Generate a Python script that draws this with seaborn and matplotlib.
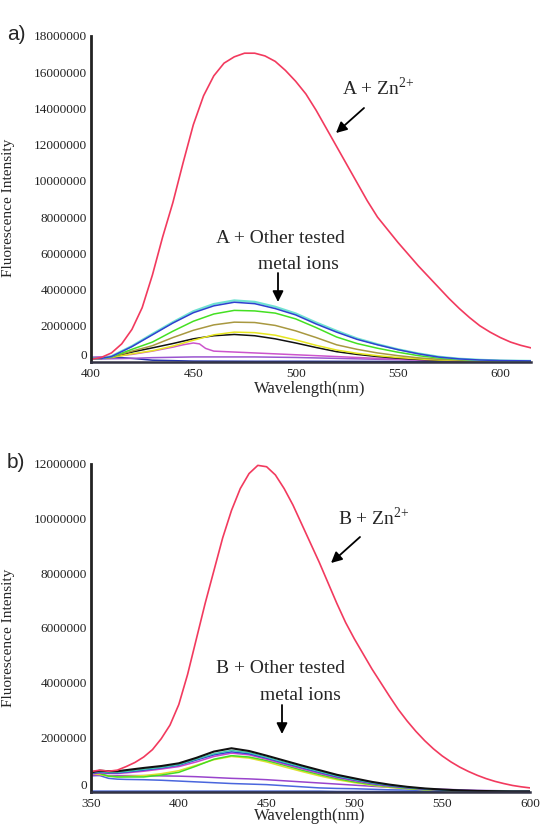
import numpy as np
import matplotlib
matplotlib.use("Agg")
import matplotlib.pyplot as plt
import seaborn as sns

# ---- data (intensities in millions of counts) ----
# panel a : compound A
wl_a_zn = [400, 405, 410, 415, 420, 425, 430, 435, 440, 445, 450, 455, 460, 465, 470,
           475, 480, 485, 490, 495, 500, 505, 510, 515, 520, 525, 530, 535, 540, 545,
           550, 555, 560, 565, 570, 575, 580, 585, 590, 595, 600, 605, 610, 615]
a_zn = [0.15, 0.25, 0.5, 1.0, 1.8, 3.0, 4.8, 6.9, 8.8, 11.0, 13.1, 14.7, 15.8, 16.5, 16.85,
        17.05, 17.05, 16.9, 16.6, 16.1, 15.5, 14.8, 13.9, 12.9, 11.9, 10.9, 9.9, 8.9, 8.0, 7.3,
        6.6, 5.95, 5.3, 4.7, 4.1, 3.5, 2.95, 2.45, 2.0, 1.65, 1.35, 1.1, 0.92, 0.78]

wl_a = [400, 405, 410, 420, 430, 440, 450, 460, 470, 480, 490, 500, 510, 520, 530,
        540, 550, 560, 570, 580, 590, 600, 615]
a_cyan = [0.2, 0.22, 0.32, 0.88, 1.55, 2.2, 2.8, 3.2, 3.4, 3.32, 3.05, 2.68, 2.18, 1.72, 1.3,
          0.98, 0.7, 0.47, 0.29, 0.18, 0.12, 0.08, 0.06]
a_blue = [0.2, 0.2, 0.3, 0.85, 1.5, 2.15, 2.72, 3.1, 3.3, 3.22, 2.95, 2.6, 2.1, 1.65, 1.25,
          0.95, 0.68, 0.45, 0.27, 0.17, 0.11, 0.08, 0.06]
a_green = [0.2, 0.2, 0.28, 0.7, 1.1, 1.7, 2.25, 2.65, 2.85, 2.82, 2.7, 2.38, 1.9, 1.38, 1.02,
           0.76, 0.54, 0.35, 0.22, 0.14, 0.1, 0.07, 0.05]
a_olive = [0.2, 0.2, 0.27, 0.6, 0.9, 1.35, 1.75, 2.05, 2.2, 2.18, 2.02, 1.72, 1.35, 0.95, 0.7,
           0.5, 0.35, 0.23, 0.15, 0.1, 0.07, 0.05, 0.04]
a_yellow = [0.2, 0.2, 0.25, 0.45, 0.62, 0.88, 1.2, 1.5, 1.65, 1.62, 1.48, 1.22, 0.92, 0.66, 0.48,
            0.35, 0.25, 0.17, 0.11, 0.08, 0.06, 0.05, 0.04]
a_black = [0.2, 0.2, 0.26, 0.55, 0.78, 1.02, 1.28, 1.45, 1.52, 1.45, 1.28, 1.05, 0.8, 0.57, 0.42,
           0.3, 0.21, 0.14, 0.1, 0.07, 0.05, 0.04, 0.03]
wl_a_mag = [400, 410, 420, 430, 440, 445, 450, 453, 456, 460, 470, 480, 500, 520, 540, 560, 580, 600, 615]
a_magenta = [0.25, 0.3, 0.42, 0.6, 0.82, 0.95, 1.05, 1.0, 0.75, 0.6, 0.55, 0.5, 0.4, 0.3, 0.2, 0.12, 0.07, 0.04, 0.03]
wl_a_flat = [400, 410, 420, 430, 450, 480, 500, 540, 580, 615]
a_purple = [0.15, 0.18, 0.2, 0.24, 0.28, 0.28, 0.25, 0.15, 0.08, 0.05]
a_navy = [0.25, 0.28, 0.2, 0.1, 0.05, 0.04, 0.04, 0.03, 0.03, 0.03]

# panel b : compound B
wl_b_zn = [350, 355, 360, 365, 370, 375, 380, 385, 390, 395, 400, 405, 410, 415, 420, 425,
           430, 435, 440, 445, 450, 455, 460, 465, 470, 475, 480, 485, 490, 495, 500, 505,
           510, 515, 520, 525, 530, 535, 540, 545, 550, 555, 560, 565, 570, 575, 580, 585,
           590, 595, 600]
b_zn = [0.75, 0.8, 0.76, 0.8, 0.93, 1.08, 1.28, 1.55, 1.95, 2.45, 3.2, 4.3, 5.6, 6.9, 8.1, 9.3,
        10.3, 11.1, 11.65, 11.95, 11.9, 11.6, 11.1, 10.5, 9.8, 9.1, 8.4, 7.65, 6.9, 6.2, 5.6, 5.05,
        4.5, 4.0, 3.5, 3.02, 2.6, 2.22, 1.88, 1.58, 1.32, 1.1, 0.91, 0.75, 0.61, 0.49, 0.39, 0.31,
        0.24, 0.19, 0.15]

wl_b = [350, 355, 360, 365, 370, 380, 390, 400, 410, 420, 430, 440, 450, 460, 470, 480,
        490, 500, 510, 520, 530, 540, 550, 560, 570, 580, 590, 600]
b_black = [0.72, 0.78, 0.76, 0.76, 0.8, 0.88, 0.95, 1.05, 1.25, 1.48, 1.6, 1.5, 1.33, 1.15, 0.97, 0.8,
           0.63, 0.5, 0.37, 0.27, 0.19, 0.13, 0.09, 0.06, 0.04, 0.03, 0.02, 0.02]
b_teal = [0.7, 0.75, 0.72, 0.72, 0.75, 0.83, 0.9, 1.0, 1.2, 1.4, 1.52, 1.44, 1.27, 1.09, 0.92, 0.75,
          0.59, 0.46, 0.34, 0.25, 0.17, 0.12, 0.08, 0.05, 0.04, 0.03, 0.02, 0.02]
b_blue = [0.68, 0.72, 0.7, 0.7, 0.73, 0.8, 0.88, 0.98, 1.17, 1.36, 1.47, 1.4, 1.24, 1.06, 0.89, 0.72,
          0.56, 0.44, 0.32, 0.23, 0.16, 0.11, 0.07, 0.05, 0.03, 0.02, 0.02, 0.02]
b_magenta = [0.65, 0.7, 0.68, 0.68, 0.7, 0.76, 0.84, 0.93, 1.1, 1.3, 1.42, 1.36, 1.2, 1.02, 0.85, 0.68,
             0.53, 0.41, 0.3, 0.21, 0.15, 0.1, 0.07, 0.05, 0.03, 0.02, 0.02, 0.02]
b_green = [0.7, 0.68, 0.58, 0.55, 0.55, 0.55, 0.62, 0.72, 0.95, 1.2, 1.33, 1.28, 1.15, 0.98, 0.8, 0.64,
           0.49, 0.37, 0.27, 0.19, 0.13, 0.09, 0.06, 0.04, 0.03, 0.02, 0.02, 0.02]
b_yellow = [0.66, 0.64, 0.58, 0.56, 0.57, 0.6, 0.67, 0.78, 0.98, 1.18, 1.3, 1.24, 1.1, 0.92, 0.75, 0.59,
            0.45, 0.34, 0.25, 0.17, 0.12, 0.08, 0.06, 0.04, 0.03, 0.02, 0.02, 0.02]
b_violet = [0.6, 0.62, 0.6, 0.6, 0.6, 0.6, 0.59, 0.58, 0.56, 0.53, 0.5, 0.48, 0.45, 0.41, 0.37, 0.33,
            0.29, 0.25, 0.21, 0.17, 0.14, 0.12, 0.1, 0.08, 0.06, 0.05, 0.04, 0.04]
b_lowblue = [0.6, 0.6, 0.5, 0.47, 0.46, 0.45, 0.43, 0.4, 0.37, 0.34, 0.31, 0.29, 0.27, 0.23, 0.19, 0.15,
             0.13, 0.12, 0.1, 0.08, 0.07, 0.06, 0.05, 0.04, 0.03, 0.03, 0.02, 0.02]
b_base = [0.03, 0.03, 0.03, 0.03, 0.03, 0.03, 0.03, 0.03, 0.03, 0.03, 0.03, 0.03, 0.03, 0.03, 0.03, 0.03,
          0.02, 0.02, 0.02, 0.02, 0.02, 0.02, 0.02, 0.02, 0.02, 0.02, 0.02, 0.02]

xticks_a = [400, 450, 500, 550, 600]
yticks_a = [0, 2000000, 4000000, 6000000, 8000000, 10000000, 12000000, 14000000, 16000000, 18000000]
xticks_b = [350, 400, 450, 500, 550, 600]
yticks_b = [0, 2000000, 4000000, 6000000, 8000000, 10000000, 12000000]

# ---- style ----
sns.set_style("white")
plt.rcParams["font.family"] = ["Liberation Serif", "DejaVu Serif"]
plt.rcParams["mathtext.fontset"] = "custom"
plt.rcParams["mathtext.rm"] = "Liberation Serif"

W, H = 543, 831
fig = plt.figure(figsize=(W / 100, H / 100), dpi=100)


def fx(x, y):
    return (x / W, 1 - y / H)


ax_a = fig.add_axes([91 / W, 1 - 362 / H, 440 / W, 326 / H])
ax_b = fig.add_axes([91 / W, 1 - 792 / H, 439 / W, 328 / H])


def draw(ax, x, y, color, lw=1.1):
    sns.lineplot(x=x, y=np.array(y) * 1e6, ax=ax, color=color, lw=lw,
                 estimator=None, sort=False)


# panel a
draw(ax_a, wl_a_flat, a_navy, "#2233aa")
draw(ax_a, wl_a_flat, a_purple, "#9a55d0")
draw(ax_a, wl_a_mag, a_magenta, "#cc55cc")
draw(ax_a, wl_a, a_black, "#111111")
draw(ax_a, wl_a, a_yellow, "#e6e620")
draw(ax_a, wl_a, a_olive, "#a89840")
draw(ax_a, wl_a, a_green, "#44e022")
draw(ax_a, wl_a, a_cyan, "#70e2d2", lw=1.6)
draw(ax_a, wl_a, a_blue, "#3040d0")
draw(ax_a, wl_a_zn, a_zn, "#f23a5e", lw=1.2)

# panel b
draw(ax_b, wl_b, b_base, "#3355cc")
draw(ax_b, wl_b, b_lowblue, "#4a66dd")
draw(ax_b, wl_b, b_violet, "#9944cc")
draw(ax_b, wl_b, b_yellow, "#e0e030")
draw(ax_b, wl_b, b_green, "#44dd22")
draw(ax_b, wl_b, b_magenta, "#cc44cc")
draw(ax_b, wl_b, b_blue, "#3040d0")
draw(ax_b, wl_b, b_teal, "#40c8b0")
draw(ax_b, wl_b, b_black, "#111111", lw=1.5)
draw(ax_b, wl_b_zn, b_zn, "#f23a5e", lw=1.2)

for ax, xt, yt, xl, yl in [(ax_a, xticks_a, yticks_a, (400, 615), (0, 18000000)),
                           (ax_b, xticks_b, yticks_b, (350, 600), (0, 12000000))]:
    ax.set_xlim(*xl)
    ax.set_ylim(*yl)
    ax.set_xticks(xt)
    ax.set_xticklabels([str(v) for v in xt])
    ax.set_yticks(yt)
    ax.set_yticklabels([str(v) for v in yt])
    ax.tick_params(axis="both", labelsize=9.5, length=2, width=1, pad=1, colors="#222222")
    ax.tick_params(axis="x", pad=2)
    ax.set_xlabel("")
    ax.set_ylabel("")
    sns.despine(ax=ax)
    ax.spines["left"].set_linewidth(2)
    ax.spines["left"].set_color("#222222")
    ax.spines["bottom"].set_linewidth(1.8)
    ax.spines["bottom"].set_color("#333344")
    # lift the corner "0" a little so it does not sit on the first x label
    ax.get_yticklabels()[0].set_va("bottom")

# axis titles
fig.text(*fx(310, 389), "Wavelength(nm)", ha="center", va="center", fontsize=12)
fig.text(*fx(310, 816), "Wavelength(nm)", ha="center", va="center", fontsize=12)
fig.text(*fx(9, 208), "Fluorescence Intensity", rotation=90, ha="center", va="center", fontsize=11)
fig.text(*fx(9, 638), "Fluorescence Intensity", rotation=90, ha="center", va="center", fontsize=11)

# panel letters
fig.text(*fx(7, 35), "a)", ha="left", va="center", fontsize=15, family="Liberation Sans")
fig.text(*fx(7, 462), "b)", ha="left", va="center", fontsize=15, family="Liberation Sans")

# annotations
arrow = dict(arrowstyle="-|>", color="black", lw=1.3, mutation_scale=16, shrinkA=0, shrinkB=0)
fig.text(*fx(342, 95), "A + Zn$^{2{+}}$", ha="left", va="baseline", fontsize=14)
ax_a.annotate("", xy=fx(336, 133), xytext=fx(364, 108), xycoords="figure fraction",
              textcoords="figure fraction", arrowprops=arrow)
fig.text(*fx(280, 243), "A + Other tested", ha="center", va="baseline", fontsize=14)
fig.text(*fx(298, 269), "metal ions", ha="center", va="baseline", fontsize=14)
ax_a.annotate("", xy=fx(278, 302), xytext=fx(278, 273), xycoords="figure fraction",
              textcoords="figure fraction", arrowprops=arrow)

fig.text(*fx(338, 525), "B + Zn$^{2{+}}$", ha="left", va="baseline", fontsize=14)
ax_b.annotate("", xy=fx(331, 563), xytext=fx(360, 537), xycoords="figure fraction",
              textcoords="figure fraction", arrowprops=arrow)
fig.text(*fx(280, 673), "B + Other tested", ha="center", va="baseline", fontsize=14)
fig.text(*fx(300, 700), "metal ions", ha="center", va="baseline", fontsize=14)
ax_b.annotate("", xy=fx(282, 734), xytext=fx(282, 705), xycoords="figure fraction",
              textcoords="figure fraction", arrowprops=arrow)

fig.savefig("out.png", dpi=100)
